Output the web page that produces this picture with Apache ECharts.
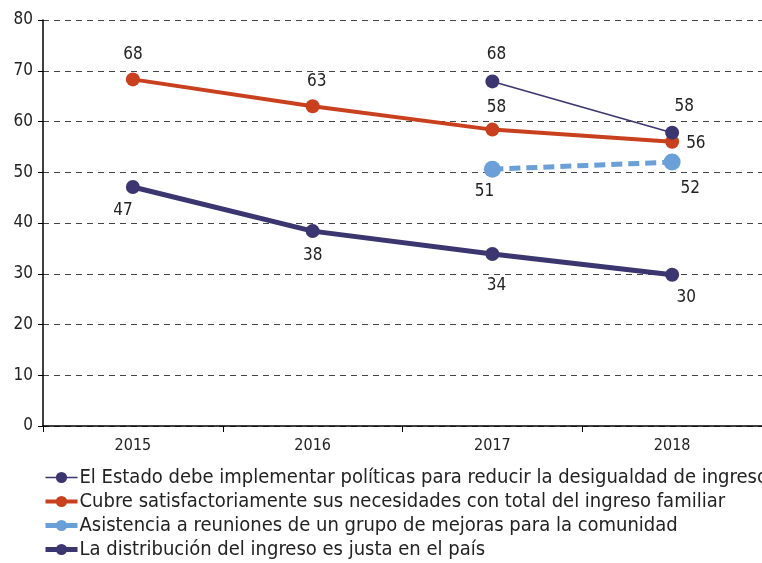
<!DOCTYPE html>
<html><head><meta charset="utf-8">
<script src="https://cdn.jsdelivr.net/npm/echarts@6/dist/echarts.min.js"></script>
<style>html,body{margin:0;padding:0;background:#fff}#c{width:762px;height:563px}</style>
</head><body><div id="c"></div>
<script>
var categories = ['2015', '2016', '2017', '2018'];
var seriesNames = [
  'El Estado debe implementar políticas para reducir la desigualdad de ingresos',
  'Cubre satisfactoriamente sus necesidades con total del ingreso familiar',
  'Asistencia a reuniones de un grupo de mejoras para la comunidad',
  'La distribución del ingreso es justa en el país'
];
var estado = [null, null, 67.9, 57.8];
var cubre = [68.3, 63.0, 58.4, 56.0];
var asistencia = [null, null, 50.6, 52.0];
var distribucion = [47.1, 38.4, 33.9, 29.8];
var yTicks = [0, 10, 20, 30, 40, 50, 60, 70, 80];

var FONT = 'DejaVu Sans Condensed';
var navy = '#3b3570', red = '#c8401e', blue = '#6a9fd8';
var widths = [1.5, 4, 5, 5];
var colors = [navy, red, blue, navy];

function lbl(pos, offset) {
  return {show: true, position: pos, offset: offset || [0, 0], color: '#222', fontSize: 17, fontFamily: FONT,
    formatter: function (p) { return Math.round(p.value); }};
}
function mk(arr, labels) {
  return arr.map(function (v, i) { return v == null ? null : {value: v, label: labels[i]}; });
}

var chart = echarts.init(document.getElementById('c'));
chart.setOption({
  animation: false,
  grid: {left: 43, right: 0, top: 20, bottom: 137, containLabel: false},
  legend: {
    orient: 'vertical', left: 38, top: 462, itemGap: 3, itemWidth: 32, itemHeight: 14, padding: [5, 0, 0, 5],
    textStyle: {fontFamily: FONT, fontSize: 20, lineHeight: 21, color: '#222', padding: [0, 0, 0, -3]},
    data: seriesNames.map(function (n, i) {
      return {name: n, lineStyle: {width: widths[i], color: colors[i], type: 'solid'}, itemStyle: {color: colors[i]}};
    })
  },
  xAxis: {
    type: 'category', data: categories, boundaryGap: true,
    axisLine: {lineStyle: {color: '#000', width: 1.5}},
    axisTick: {show: true, length: 6, lineStyle: {color: '#000'}},
    axisLabel: {fontFamily: FONT, fontSize: 16, color: '#222', margin: 12}
  },
  yAxis: {
    type: 'value', min: yTicks[0], max: yTicks[yTicks.length - 1], interval: 10,
    axisLine: {show: true, lineStyle: {color: '#000', width: 1.5}},
    axisTick: {show: true, length: 5, lineStyle: {color: '#000'}},
    axisLabel: {fontFamily: FONT, fontSize: 17, color: '#222', margin: 10},
    splitLine: {show: true, lineStyle: {color: '#444', type: [6, 5], width: 1}}
  },
  series: [
    {name: seriesNames[0], type: 'line', connectNulls: false,
     data: mk(estado, [null, null, lbl('top', [4, -6]), lbl('top', [12, -6])]),
     symbol: 'circle', symbolSize: 14, lineStyle: {color: navy, width: widths[0]}, itemStyle: {color: navy}, z: 4},
    {name: seriesNames[1], type: 'line',
     data: mk(cubre, [lbl('top', [0, -4]), lbl('top', [4, -4]), lbl('top', [4, -2]), lbl('right', [2, 2])]),
     symbol: 'circle', symbolSize: 14, lineStyle: {color: red, width: widths[1]}, itemStyle: {color: red}, z: 3},
    {name: seriesNames[2], type: 'line',
     data: mk(asistencia, [null, null, lbl('bottom', [-8, 0]), lbl('bottom', [18, 4])]),
     symbol: 'circle', symbolSize: 17, lineStyle: {color: blue, width: widths[2], type: [11, 6]}, itemStyle: {color: blue}, z: 2},
    {name: seriesNames[3], type: 'line',
     data: mk(distribucion, [lbl('bottom', [-10, 3]), lbl('bottom', [0, 4]), lbl('bottom', [4, 11]), lbl('bottom', [14, 2])]),
     symbol: 'circle', symbolSize: 14, lineStyle: {color: navy, width: widths[3]}, itemStyle: {color: navy}, z: 2}
  ]
});
</script></body></html>
